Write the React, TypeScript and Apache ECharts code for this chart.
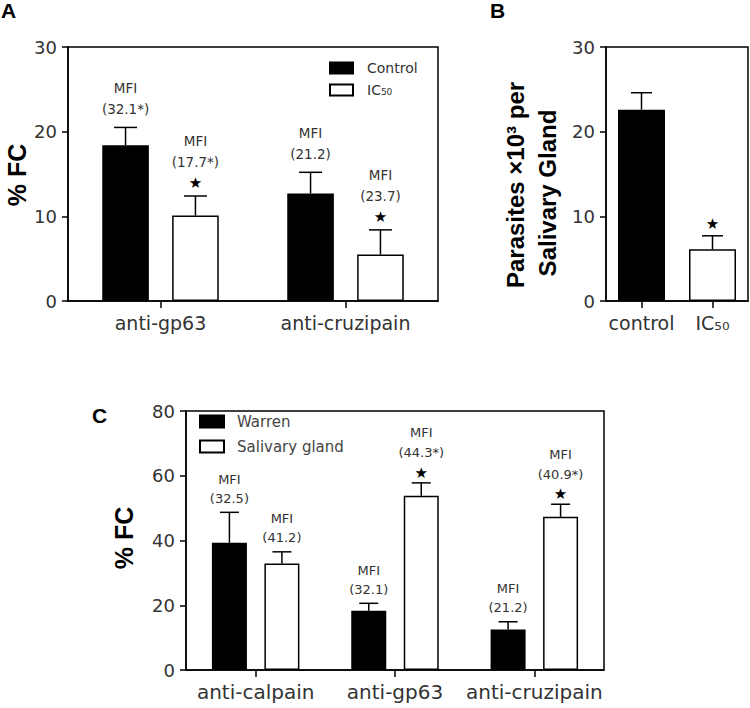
import React, { useEffect, useRef } from 'react';
import * as echarts from 'echarts';

// ---- Panel A ----
const catsA = ['anti-gp63', 'anti-cruzipain'];
const controlA = [18.4, 12.7];
const controlSdA = [2.1, 2.5];
const ic50A = [10.1, 5.5];
const ic50SdA = [2.3, 2.9];
const mfiControlA = ['(32.1*)', '(21.2)'];
const mfiIc50A = ['(17.7*)', '(23.7)'];
const starControlA = [false, false];
const starIc50A = [true, true];

// ---- Panel B ----
const catsB = ['control', 'IC₅₀'];
const valuesB = [22.6, 6.1];
const sdB = [2.0, 1.6];
const starB = [false, true];

// ---- Panel C ----
const catsC = ['anti-calpain', 'anti-gp63', 'anti-cruzipain'];
const warrenC = [39.3, 18.3, 12.5];
const warrenSdC = [9.4, 2.3, 2.4];
const salivaryC = [32.9, 53.8, 47.3];
const salivarySdC = [3.6, 4.0, 3.9];
const mfiWarrenC = ['(32.5)', '(32.1)', '(21.2)'];
const mfiSalivaryC = ['(41.2)', '(44.3*)', '(40.9*)'];
const starWarrenC = [false, false, false];
const starSalivaryC = [false, true, true];

const FONT = 'DejaVu Sans';
const BOLD = 'Liberation Sans';

type Gaps = { paren: number; mfi: number; star: number; parenS: number; mfiS: number };

function errorSeries(
  xi: number,
  values: number[],
  sds: number[],
  offset: number,
  capW: number,
  mfi: string[] | null,
  stars: boolean[],
  gaps: Gaps,
  textSize: number
) {
  return {
    type: 'custom',
    xAxisIndex: xi,
    yAxisIndex: xi,
    silent: true,
    z: 10,
    clip: false,
    data: values.map((v, i) => [i, v, v + sds[i]]),
    renderItem: (params: any, api: any) => {
      const i = params.dataIndex;
      const base = api.coord([api.value(0), api.value(1)]);
      const top = api.coord([api.value(0), api.value(2)]);
      const x = base[0] + offset;
      const ty = top[1];
      const ls = { stroke: '#000', lineWidth: 1.5 };
      const children: any[] = [
        { type: 'line', shape: { x1: x, y1: base[1], x2: x, y2: ty }, style: ls },
        { type: 'line', shape: { x1: x - capW / 2, y1: ty, x2: x + capW / 2, y2: ty }, style: ls },
      ];
      const txt = (t: string, y: number, size: number, fill = '#333') => ({
        type: 'text',
        style: { text: t, x, y, fill, fontSize: size, fontFamily: FONT, align: 'center', verticalAlign: 'middle' },
      });
      const st = stars[i];
      if (st) children.push(txt('★', ty - gaps.star, 15, '#000'));
      if (mfi) {
        children.push(txt(mfi[i], ty - (st ? gaps.parenS : gaps.paren), textSize));
        children.push(txt('MFI', ty - (st ? gaps.mfiS : gaps.mfi), textSize));
      }
      return { type: 'group', children };
    },
  };
}

export default function App() {
  const ref = useRef<HTMLDivElement>(null);
  useEffect(() => {
    document.body.style.margin = '0';
    const chart = echarts.init(ref.current!, null, { renderer: 'svg' });

    const bwA = 46.6, gapA = 0.5;
    const offA = (bwA * (1 + gapA)) / 2;
    const bwB = 47;
    const bwC = 35, gapC = 0.5;
    const offC = (bwC * (1 + gapC)) / 2;

    const gapsA: Gaps = { paren: 18.5, mfi: 39, star: 13, parenS: 34, mfiS: 55 };
    const gapsB: Gaps = { paren: 0, mfi: 0, star: 12, parenS: 0, mfiS: 0 };
    const gapsC: Gaps = { paren: 14, mfi: 33, star: 10, parenS: 30, mfiS: 50 };

    const yAxisBase = (max: number, interval: number, gi: number) => ({
      type: 'value',
      gridIndex: gi,
      min: 0,
      max,
      interval,
      splitLine: { show: false },
      axisLine: { show: true, lineStyle: { color: '#000', width: 1.5 } },
      axisTick: { show: true, length: 6, lineStyle: { color: '#000', width: 1.5 } },
      axisLabel: { fontSize: 18, fontFamily: FONT, color: '#333', margin: 11 },
    });
    const xAxisBase = (cats: string[], gi: number, fs: number) => ({
      type: 'category',
      gridIndex: gi,
      data: cats,
      axisLine: { show: true, lineStyle: { color: '#000', width: 1.5 } },
      axisTick: { show: true, alignWithLabel: true, interval: 0, length: 7, lineStyle: { color: '#000', width: 1.5 } },
      axisLabel: { interval: 0, hideOverlap: false, fontSize: fs, fontFamily: FONT, color: '#333', margin: 12 },
    });

    const blackBar = { color: '#000', borderColor: '#000', borderWidth: 1.5 };
    const whiteBar = { color: '#fff', borderColor: '#000', borderWidth: 1.5 };

    chart.setOption({
      animation: false,
      grid: [
        { left: 68, top: 47, width: 370, height: 254, show: true, borderColor: '#000', borderWidth: 1.5, backgroundColor: 'transparent' },
        { left: 606, top: 47, width: 142, height: 254, show: true, borderColor: '#000', borderWidth: 1.5, backgroundColor: 'transparent' },
        { left: 186, top: 411, width: 418, height: 259, show: true, borderColor: '#000', borderWidth: 1.5, backgroundColor: 'transparent' },
      ],
      xAxis: [xAxisBase(catsA, 0, 19), xAxisBase(catsB, 1, 19), xAxisBase(catsC, 2, 20)],
      yAxis: [yAxisBase(30, 10, 0), yAxisBase(30, 10, 1), yAxisBase(80, 20, 2)],
      legend: [
        {
          data: ['Control', 'IC₅₀'],
          left: 329,
          top: 61,
          orient: 'vertical',
          icon: 'rect',
          itemWidth: 23,
          itemHeight: 11,
          itemGap: 8,
          padding: 0,
          selectedMode: false,
          textStyle: { fontSize: 14, fontFamily: FONT, color: '#333', padding: [0, 0, 0, 9] },
        },
        {
          data: ['Warren', 'Salivary gland'],
          left: 199,
          top: 414,
          orient: 'vertical',
          icon: 'rect',
          itemWidth: 24,
          itemHeight: 12,
          itemGap: 10,
          padding: 0,
          selectedMode: false,
          textStyle: { fontSize: 15, fontFamily: FONT, color: '#444', padding: [0, 0, 0, 8] },
        },
      ],
      graphic: [
        { type: 'text', x: 1, y: 10, style: { text: 'A', fontSize: 21, fontWeight: 'bold', fontFamily: BOLD, fill: '#000', align: 'left', verticalAlign: 'middle' } },
        { type: 'text', x: 490, y: 10, style: { text: 'B', fontSize: 21, fontWeight: 'bold', fontFamily: BOLD, fill: '#000', align: 'left', verticalAlign: 'middle' } },
        { type: 'text', x: 92, y: 415, style: { text: 'C', fontSize: 21, fontWeight: 'bold', fontFamily: BOLD, fill: '#000', align: 'left', verticalAlign: 'middle' } },
        { type: 'text', x: 17, y: 175, rotation: Math.PI / 2, style: { text: '% FC', fontSize: 25, fontWeight: 'bold', fontFamily: BOLD, fill: '#000', align: 'center', verticalAlign: 'middle' } },
        { type: 'text', x: 124, y: 538, rotation: Math.PI / 2, style: { text: '% FC', fontSize: 25, fontWeight: 'bold', fontFamily: BOLD, fill: '#000', align: 'center', verticalAlign: 'middle' } },
        { type: 'text', x: 515, y: 185, rotation: Math.PI / 2, style: { text: 'Parasites ×10³ per', fontSize: 24, fontWeight: 'bold', fontFamily: BOLD, fill: '#000', align: 'center', verticalAlign: 'middle' } },
        { type: 'text', x: 547, y: 193, rotation: Math.PI / 2, style: { text: 'Salivary Gland', fontSize: 24, fontWeight: 'bold', fontFamily: BOLD, fill: '#000', align: 'center', verticalAlign: 'middle' } },
      ],
      series: [
        { name: 'Control', type: 'bar', xAxisIndex: 0, yAxisIndex: 0, data: controlA, barWidth: bwA, barGap: '50%', itemStyle: blackBar, silent: true },
        { name: 'IC₅₀', type: 'bar', xAxisIndex: 0, yAxisIndex: 0, data: ic50A, barWidth: bwA, barGap: '50%', itemStyle: whiteBar, silent: true },
        errorSeries(0, controlA, controlSdA, -offA, 23, mfiControlA, starControlA, gapsA, 13.5),
        errorSeries(0, ic50A, ic50SdA, offA, 23, mfiIc50A, starIc50A, gapsA, 13.5),

        {
          name: 'B',
          type: 'bar',
          xAxisIndex: 1,
          yAxisIndex: 1,
          barWidth: bwB,
          silent: true,
          data: valuesB.map((v, i) => ({ value: v, itemStyle: i === 0 ? blackBar : whiteBar })),
        },
        errorSeries(1, valuesB, sdB, 0, 21, null, starB, gapsB, 13.5),

        { name: 'Warren', type: 'bar', xAxisIndex: 2, yAxisIndex: 2, data: warrenC, barWidth: bwC, barGap: '50%', itemStyle: blackBar, silent: true },
        { name: 'Salivary gland', type: 'bar', xAxisIndex: 2, yAxisIndex: 2, data: salivaryC, barWidth: bwC, barGap: '50%', itemStyle: whiteBar, silent: true },
        errorSeries(2, warrenC, warrenSdC, -offC, 19, mfiWarrenC, starWarrenC, gapsC, 13),
        errorSeries(2, salivaryC, salivarySdC, offC, 19, mfiSalivaryC, starSalivaryC, gapsC, 13),
      ],
    });
    return () => chart.dispose();
  }, []);
  return <div ref={ref} style={{ width: 750, height: 708 }} />;
}
